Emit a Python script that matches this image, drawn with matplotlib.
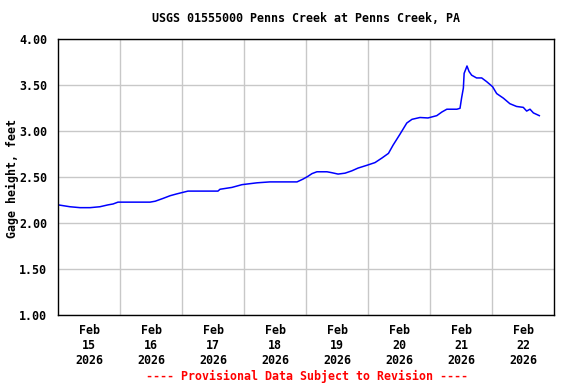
import matplotlib
matplotlib.use("Agg")
import matplotlib.pyplot as plt

# gage height readings, hours after Feb 15 2026 00:00
hours = [0, 4.5, 8.4, 12.3, 16.1, 19.2, 21.2, 23.1, 29.7, 35.5, 37.5, 40.5,
         43.3, 45.9, 50.2, 54.8, 61.8, 62.6, 67.2, 71.1, 76.9, 81.9, 87.8,
         92.4, 94.7, 96.6, 98.2, 100.1, 104.0, 105.9, 108.3, 111.0, 113.6,
         116.0, 119.4, 122.6, 125.3, 127.8, 129.6, 132.3, 134.9, 136.9,
         140.0, 143.1, 146.5, 148.5, 150.4, 154.3, 155.5, 156.1, 156.8,
         157.1, 157.8, 158.2, 159.0, 160.0, 161.9, 163.9, 165.8, 168.1,
         169.7, 172.3, 174.8, 177.4, 180.0, 181.3, 182.6, 183.9, 186.2]
gage = [2.20, 2.18, 2.17, 2.17, 2.18, 2.20, 2.21, 2.23, 2.23, 2.23, 2.24, 2.27,
        2.30, 2.32, 2.35, 2.35, 2.35, 2.37, 2.39, 2.42, 2.44, 2.45, 2.45,
        2.45, 2.48, 2.51, 2.54, 2.56, 2.56, 2.55, 2.535, 2.545, 2.57,
        2.60, 2.63, 2.66, 2.71, 2.76, 2.85, 2.97, 3.09, 3.13,
        3.15, 3.145, 3.17, 3.21, 3.24, 3.24, 3.25, 3.36, 3.47,
        3.63, 3.68, 3.71, 3.65, 3.61, 3.58, 3.58, 3.54, 3.485,
        3.41, 3.36, 3.30, 3.27, 3.26, 3.22, 3.24, 3.20, 3.17]

days = ["15", "16", "17", "18", "19", "20", "21", "22"]
yticks = [1.0, 1.5, 2.0, 2.5, 3.0, 3.5, 4.0]

FONT = dict(family="DejaVu Sans Mono", weight="bold", size=8.4)

fig = plt.figure(figsize=(5.76, 3.84), dpi=100)
W, H = 576, 384
ax = fig.add_axes([58.3 / W, 1 - 315.3 / H, 496 / W, 276 / H])

ax.plot([h / 24 for h in hours], gage, color="#0000ff", lw=1.1)

ax.set_xlim(0, len(days))
ax.set_ylim(yticks[0], yticks[-1])
ax.set_yticks(yticks)
ax.set_yticklabels([f"{v:.2f}" for v in yticks], fontdict=FONT)
ax.set_xticks([i + 0.5 for i in range(len(days))])
ax.set_xticklabels([f"Feb\n{d}\n2026" for d in days], fontdict=FONT)
ax.set_xticks(range(1, len(days)), minor=True)
ax.tick_params(which="both", length=0)
ax.tick_params(axis="x", pad=6)
ax.tick_params(axis="y", pad=8)
ax.grid(True, which="minor", axis="x", color="#c8c8c8", lw=1)
ax.grid(True, which="major", axis="y", color="#c8c8c8", lw=1)
for s in ax.spines.values():
    s.set_color("black")
    s.set_linewidth(1)

fig.text(306 / W, 1 - 19 / H, "USGS 01555000 Penns Creek at Penns Creek, PA",
         ha="center", va="center", **FONT)
fig.text(12 / W, 1 - 178 / H, "Gage height, feet", rotation=90,
         ha="center", va="center", **FONT)
fig.text(307 / W, 1 - 376 / H, "---- Provisional Data Subject to Revision ----",
         ha="center", va="center", color="red", **FONT)

fig.savefig("out.png", dpi=100)
